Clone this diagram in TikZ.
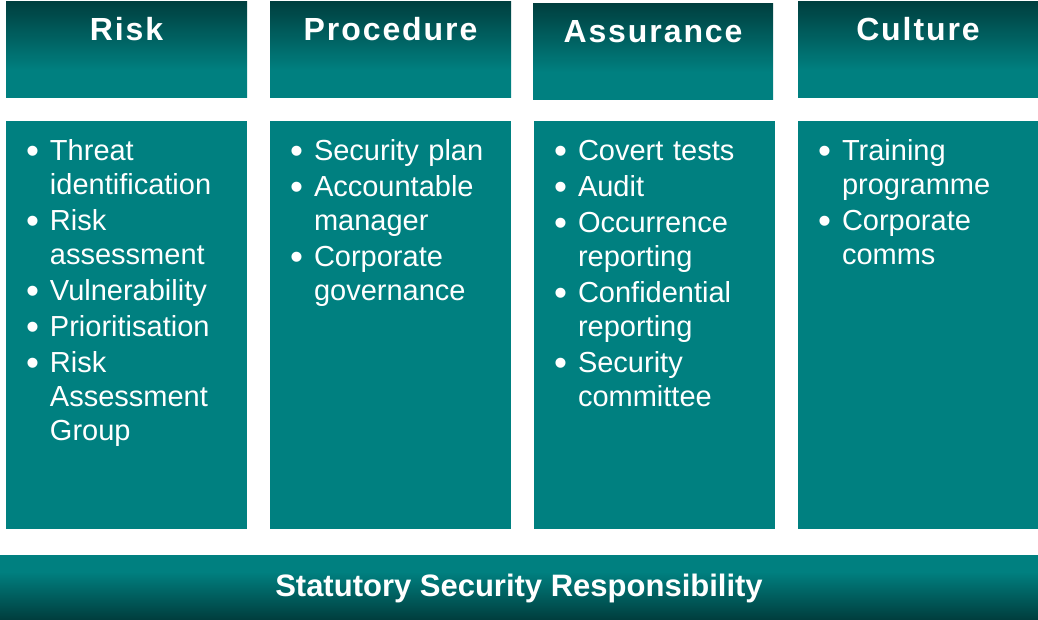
\documentclass[tikz,border=0pt]{standalone}
\usepackage{fontspec}
\setmainfont{Liberation Sans}
\newfontfamily\headfont[LetterSpace=6]{Liberation Sans}
\usetikzlibrary{positioning}

\definecolor{pillteal}{RGB}{0,128,128}
\definecolor{pilldark}{RGB}{0,62,62}

% dark at the top for the column heads, dark at the bottom for the base
\pgfdeclareverticalshading{headfade}{100bp}{color(0bp)=(pillteal); color(39bp)=(pillteal); color(75bp)=(pilldark); color(100bp)=(pilldark)}
\pgfdeclareverticalshading{basefade}{100bp}{color(0bp)=(pilldark); color(25bp)=(pilldark); color(62bp)=(pillteal); color(100bp)=(pillteal)}

% one bullet point, continuation lines hang under the text
\newcommand\pitem[1]{\par\hangindent=23pt\hangafter=1\noindent
  \makebox[23pt][l]{\strut\raisebox{-3pt}{\fontsize{37}{34}\selectfont\kern-1pt•}}#1\par}

\tikzset{
  headbox/.style={shading=headfade, inner sep=0pt, minimum width=241pt, minimum height=96pt},
  bodybox/.style={fill=pillteal, inner sep=0pt, minimum width=241pt, minimum height=408pt},
  headtext/.style={anchor=base, text=white, inner sep=0pt, font=\headfont\bfseries\fontsize{32}{38}\selectfont},
  bullets/.style={anchor=north west, text=white, inner sep=0pt, text width=218pt,
    font=\fontsize{29}{34}\selectfont\setlength{\parskip}{2pt}\raggedright},
}

\begin{document}
\begin{tikzpicture}[x=1pt,y=-1pt]
  \useasboundingbox (0,0) rectangle (1038,619);

  % column heads
  \node[headbox] (riskhead) at (126.5,49) {};
  \node[headbox] (prochead) at (390.5,49) {};
  \node[headbox, minimum width=240pt] (assuhead) at (653,51) {};
  \node[headbox, minimum width=240pt] (culthead) at (918,49) {};
  \node[headtext] (risklbl) at ([yshift=-40pt]riskhead.north) {Risk};
  \node[headtext] (proclbl) at ([yshift=-40pt]prochead.north) {Procedure};
  \node[headtext] (assulbl) at ([yshift=-40pt]assuhead.north) {Assurance};
  \node[headtext] (cultlbl) at ([yshift=-40pt]culthead.north) {Culture};

  % column bodies
  \node[bodybox] (riskbody) at (126.5,325) {};
  \node[bodybox] (procbody) at (390.5,325) {};
  \node[bodybox] (assubody) at (654.5,325) {};
  \node[bodybox, minimum width=240pt] (cultbody) at (918,325) {};

  \node[bullets] (risklist) at ([xshift=21pt,yshift=-3pt]riskbody.north west) {
    \pitem{Threat\newline identification}
    \pitem{Risk\newline assessment}
    \pitem{Vulnerability}
    \pitem{Prioritisation}
    \pitem{Risk\newline Assessment\newline Group}};
  \node[bullets] (proclist) at ([xshift=21pt,yshift=-3pt]procbody.north west) {
    \pitem{Security plan}
    \pitem{Accountable\newline manager}
    \pitem{Corporate\newline governance}};
  \node[bullets] (assulist) at ([xshift=21pt,yshift=-3pt]assubody.north west) {
    \pitem{Covert tests}
    \pitem{Audit}
    \pitem{Occurrence\newline reporting}
    \pitem{Confidential\newline reporting}
    \pitem{Security\newline committee}};
  \node[bullets] (cultlist) at ([xshift=21pt,yshift=-3pt]cultbody.north west) {
    \pitem{Training\newline programme}
    \pitem{Corporate\newline comms}};

  % base bar
  \node[shading=basefade, inner sep=0pt, minimum width=1038pt, minimum height=64pt] (base) at (519,587) {};
  \node[text=white, font=\bfseries\fontsize{31}{36}\selectfont, anchor=base] (baselbl)
    at ([yshift=23pt]base.south) {Statutory Security Responsibility};
\end{tikzpicture}
\end{document}
